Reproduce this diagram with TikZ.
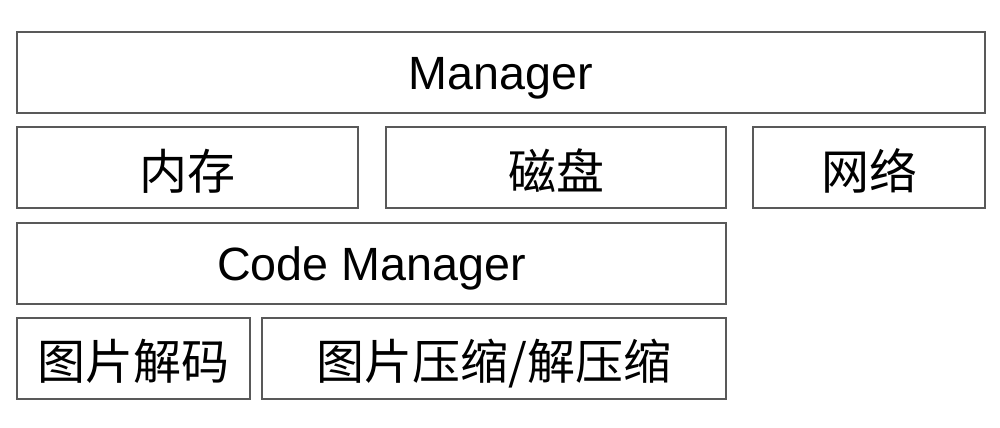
\documentclass[tikz,border=0pt]{standalone}
\usepackage{fontspec}
\setmainfont{Liberation Sans}
\newfontfamily\cjk{Noto Sans CJK SC}
\usetikzlibrary{positioning}

\begin{document}
\begin{tikzpicture}[%
    x=0.75pt,
    y=0.75pt,
    layer/.style={%
      rectangle,
      draw=black!65,
      line width=1.5pt,
      minimum height=60.75pt,
      inner sep=0pt,
      text height=25pt,
      text depth=0pt,
      font=\fontsize{35}{40}\selectfont
    },
    zh/.style={%
      layer,
      text height=32pt,
      font=\cjk\fontsize{36}{42}\selectfont
    }
  ]
    \useasboundingbox (0,0) rectangle (1000,428);

    \node[layer, minimum width=726pt]    (manager) at (501,355)   {Manager};
    \node[zh,    minimum width=255.75pt] (mem)     at (187.5,260) {内存};
    \node[zh,    minimum width=255pt]    (disk)    at (556,260)   {磁盘};
    \node[zh,    minimum width=174pt]    (net)     at (869,260)   {网络};
    \node[layer, minimum width=531.75pt] (code)    at (371.5,164.5) {Code Manager};
    \node[zh,    minimum width=174.75pt] (decode)  at (133.5,69.5)  {图片解码};
    \node[zh,    minimum width=348pt]    (zip)     at (494,69.5)    {图片压缩/解压缩};
  \end{tikzpicture}
\end{document}
